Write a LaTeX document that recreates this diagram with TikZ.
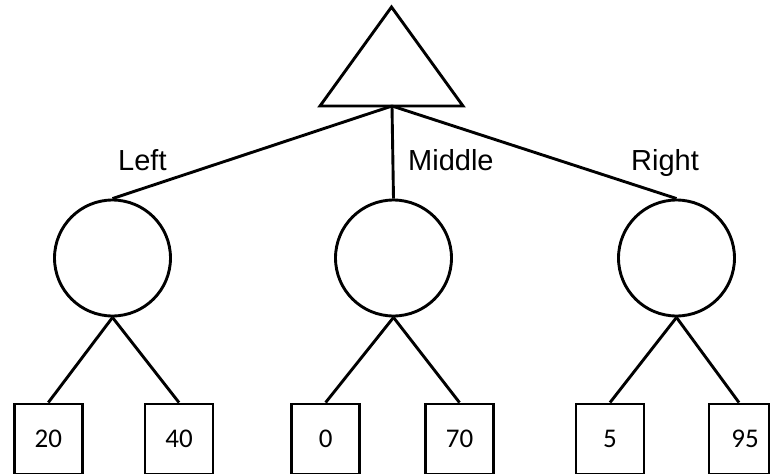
\documentclass[tikz,border=0pt]{standalone}
\usepackage{fontspec}
\setmainfont{Liberation Sans}
\newfontfamily\numfont{Carlito}
\begin{document}
\begin{tikzpicture}[x=1pt,y=-1pt,
  lw/.style={line width=2.9pt},
  chance/.style={circle,draw,lw,minimum size=116pt,inner sep=0pt},
  leaf/.style={rectangle,draw,lw,minimum width=68pt,minimum height=70pt,inner sep=0pt,font=\numfont\fontsize{27}{32}\selectfont},
  lab/.style={anchor=base west,inner sep=0pt,font=\fontsize{29}{34}\selectfont},
  edge/.style={lw}]
\useasboundingbox (0,0) rectangle (772,474);
% decision triangle
\draw[lw,line join=miter] (391.5,7) -- (463,106) -- (320,106) -- cycle;
\coordinate (root) at (392,106);
% chance nodes
\node[chance] (cl) at (112.5,258) {};
\node[chance] (cm) at (393.5,258) {};
\node[chance] (cr) at (676.5,258) {};
% leaves
\node[leaf] (l1) at (48.3,439) {\raisebox{-3pt}{20}};
\node[leaf] (l2) at (179,439) {\raisebox{-3pt}{40}};
\node[leaf] (l3) at (325.6,439) {\raisebox{-3pt}{0}};
\node[leaf] (l4) at (459.5,439) {\raisebox{-3pt}{70}};
\node[leaf] (l5) at (610,439) {\raisebox{-3pt}{5}};
\node[leaf,minimum width=60pt] (l6) at (739,439) {\hspace*{12pt}\raisebox{-3pt}{95}};
% connectors
\draw[edge] (root) -- (cl.north);
\draw[edge] (root) -- (cm.north);
\draw[edge] (root) -- (cr.north);
\foreach \c/\a/\b in {cl/l1/l2, cm/l3/l4, cr/l5/l6}{
  \draw[edge] (\c.south) -- (\a.north);
  \draw[edge] (\c.south) -- (\b.north);
}
% labels
\node[lab] (tl) at (118,170) {Left};
\node[lab] (tm) at (408,170) {Middle};
\node[lab] (tr) at (631,170) {Right};
\end{tikzpicture}
\end{document}
